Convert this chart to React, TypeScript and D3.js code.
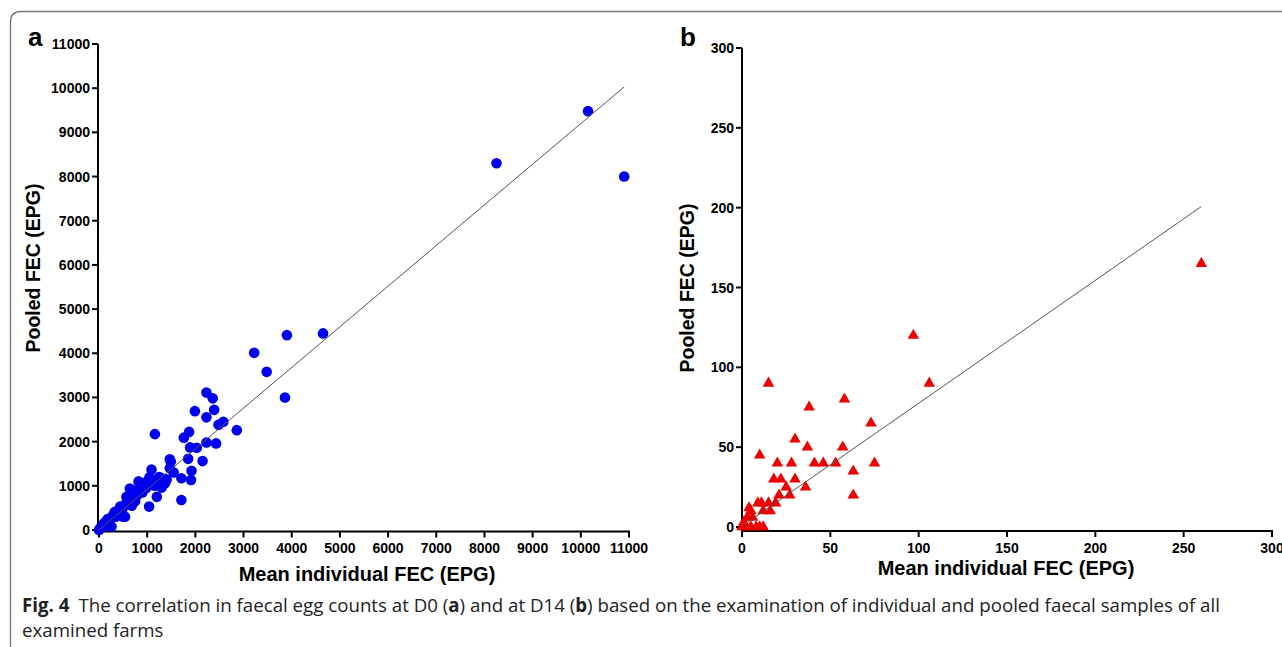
import React from "react";
import * as d3 from "d3";

// Panel a: D0 (mean individual FEC, pooled FEC)
const d0Individual = [
  10150, 8250, 10900, 4650, 3900, 3220, 3480, 3860, 2860,
  2230, 2360, 1990, 2390, 2230, 2480, 2580, 1160, 1870, 1760, 2230, 2430, 1890, 2030,
  1470, 1850, 2150, 1920, 1090, 1490, 1710, 1910, 1710, 1200, 1040, 820,
  920, 1200, 1300, 1300, 1470, 1400, 1370, 710, 570, 640, 570, 540, 440, 330, 230, 120, 20, 260,
  0, 50, 80, 100, 150, 180, 200, 250, 300, 330, 350, 380, 420, 450, 480, 500, 520, 560, 600,
  620, 650, 680, 700, 720, 750, 780, 800, 850, 880, 900, 950, 980, 1000, 1050, 1100, 1150,
  1250, 1350, 1400, 1550
];
const d0Pooled = [
  9480, 8300, 8000, 4450, 4410, 4010, 3580, 3000, 2260,
  3110, 2980, 2690, 2720, 2550, 2380, 2450, 2170, 2220, 2090, 1980, 1960, 1870, 1860,
  1600, 1610, 1560, 1340, 1370, 1550, 1170, 1130, 680, 750, 530, 1100,
  1060, 1090, 1170, 960, 1400, 1130, 1060, 830, 750, 940, 600, 300, 530, 410, 260, 150, 40, 80,
  0, 50, 100, 150, 200, 250, 100, 280, 350, 400, 300, 420, 380, 500, 450, 300, 550, 600, 700,
  650, 800, 550, 750, 850, 650, 900, 800, 1000, 950, 850, 1000, 950, 1100, 1200, 1050, 1000,
  1200, 1050, 1150, 1300
];

// Panel b: D14
const d14Individual = [
  260, 97, 106, 15, 58, 38, 73, 30, 37, 57, 10, 20, 28, 41, 46, 53, 75, 63,
  18, 22, 30, 25, 36, 21, 27, 63, 19, 15, 11, 9, 16, 12, 5, 3, 6, 1, 2, 5, 8, 10, 12, 0, 4
];
const d14Pooled = [
  165, 120, 90, 90, 80, 75, 65, 55, 50, 50, 45, 40, 40, 40, 40, 40, 40, 35,
  30, 30, 30, 25, 25, 20, 20, 20, 15, 15, 15, 15, 10, 10, 10, 6, 6, 3, 0, 0, 0, 0, 0, 0, 12
];

const ticksA = [0, 1000, 2000, 3000, 4000, 5000, 6000, 7000, 8000, 9000, 10000, 11000];
const ticksB = [0, 50, 100, 150, 200, 250, 300];

// regression lines (slope, intercept, x extent)
const fitA = { slope: 0.92, intercept: 0, x0: 0, x1: 10900 };
const fitB = { slope: 0.77, intercept: 0.5, x0: 0, x1: 260 };

const AX = "Liberation Sans, Arial, sans-serif";
const CAP = "Open Sans, sans-serif";

export default function App() {
  const ax = d3.scaleLinear().domain([0, 11000]).range([99, 629]);
  const ay = d3.scaleLinear().domain([0, 11000]).range([530, 44]);
  const bx = d3.scaleLinear().domain([0, 300]).range([742, 1272]);
  const by = d3.scaleLinear().domain([0, 300]).range([527, 48]);
  const tri = d3.symbol().type(d3.symbolTriangle).size(58)() as string;

  const lineA = d3.line<number>().x((v) => ax(v)).y((v) => ay(fitA.slope * v + fitA.intercept));
  const lineB = d3.line<number>().x((v) => bx(v)).y((v) => by(fitB.slope * v + fitB.intercept));

  return (
    <svg
      width={1282}
      height={647}
      style={{ position: "absolute", left: 0, top: 0, background: "#fff" }}
    >
      {/* frame */}
      <path d="M10.5,647 L10.5,22 Q10.5,11.5 21,11.5 L1282,11.5" fill="none" stroke="#777" strokeWidth={1.3} />

      {/* Panel a */}
      <text x={28} y={46} fontFamily={AX} fontWeight="bold" fontSize={26}>a</text>
      <line x1={98} x2={98} y1={ay(11000)} y2={ay(0) + 1.5} stroke="#000" strokeWidth={2} />
      <line x1={98} x2={ax(11000) + 1} y1={ay(0) + 1.5} y2={ay(0) + 1.5} stroke="#000" strokeWidth={2} />
      {ticksA.map((t) => (
        <g key={"ay" + t}>
          <line x1={92} x2={98} y1={ay(t)} y2={ay(t)} stroke="#000" strokeWidth={2} />
          <text x={90} y={ay(t) + 5} textAnchor="end" fontFamily={AX} fontWeight="bold" fontSize={14}>{t}</text>
        </g>
      ))}
      {ticksA.map((t) => (
        <g key={"ax" + t}>
          <line x1={ax(t)} x2={ax(t)} y1={ay(0) + 1.5} y2={ay(0) + 7.5} stroke="#000" strokeWidth={2} />
          <text x={ax(t)} y={553} textAnchor="middle" fontFamily={AX} fontWeight="bold" fontSize={14}>{t}</text>
        </g>
      ))}
      <text x={367} y={581} textAnchor="middle" fontFamily={AX} fontWeight="bold" fontSize={20}>Mean individual FEC (EPG)</text>
      <text transform={`translate(40,268) rotate(-90)`} textAnchor="middle" fontFamily={AX} fontWeight="bold" fontSize={19.5}>Pooled FEC (EPG)</text>
      {d0Individual.map((v, i) => (
        <circle key={"pa" + i} cx={ax(v)} cy={ay(d0Pooled[i])} r={5.3} fill="#0000ee" />
      ))}
      <path d={lineA([fitA.x0, fitA.x1]) as string} fill="none" stroke="#555" strokeWidth={1} />

      {/* Panel b */}
      <text x={680} y={46} fontFamily={AX} fontWeight="bold" fontSize={26}>b</text>
      <line x1={742} x2={742} y1={by(300)} y2={531} stroke="#000" strokeWidth={2} />
      <line x1={742} x2={bx(300) + 1} y1={531} y2={531} stroke="#000" strokeWidth={2} />
      {ticksB.map((t) => (
        <g key={"by" + t}>
          <line x1={736} x2={742} y1={by(t)} y2={by(t)} stroke="#000" strokeWidth={2} />
          <text x={734} y={by(t) + 5} textAnchor="end" fontFamily={AX} fontWeight="bold" fontSize={14}>{t}</text>
        </g>
      ))}
      {ticksB.map((t) => (
        <g key={"bx" + t}>
          <line x1={bx(t)} x2={bx(t)} y1={531} y2={537} stroke="#000" strokeWidth={2} />
          <text x={bx(t)} y={553} textAnchor="middle" fontFamily={AX} fontWeight="bold" fontSize={14}>{t}</text>
        </g>
      ))}
      <text x={1006} y={575} textAnchor="middle" fontFamily={AX} fontWeight="bold" fontSize={20}>Mean individual FEC (EPG)</text>
      <text transform={`translate(694,288) rotate(-90)`} textAnchor="middle" fontFamily={AX} fontWeight="bold" fontSize={19.5}>Pooled FEC (EPG)</text>
      {d14Individual.map((v, i) => (
        <path key={"pb" + i} d={tri} transform={`translate(${bx(v)},${by(d14Pooled[i])})`} fill="#ee0000" />
      ))}
      <path d={lineB([fitB.x0, fitB.x1]) as string} fill="none" stroke="#555" strokeWidth={1} />

      {/* caption */}
      <text x={22} y={612} fontFamily={CAP} fontSize={18.7} fill="#222">
        <tspan fontWeight="bold">Fig. 4</tspan>
        <tspan dx={9}>The correlation in faecal egg counts at D0 (</tspan>
        <tspan fontWeight="bold">a</tspan>
        <tspan>) and at D14 (</tspan>
        <tspan fontWeight="bold">b</tspan>
        <tspan>) based on the examination of individual and pooled faecal samples of all</tspan>
      </text>
      <text x={22} y={637} fontFamily={CAP} fontSize={18.7} fill="#222">examined farms</text>
    </svg>
  );
}
